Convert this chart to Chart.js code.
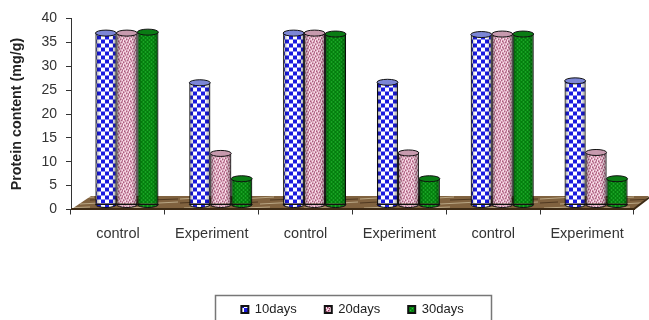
<!DOCTYPE html>
<html><head><meta charset="utf-8">
<style>html,body{margin:0;padding:0;background:#fff}canvas{display:block}</style>
<script src="https://cdn.jsdelivr.net/npm/chart.js@4"></script>
</head><body><canvas id="c" width="649" height="320"></canvas>
<script>
const categories = ['control','Experiment','control','Experiment','control','Experiment'];
const days10 = [36.0,25.6,36.0,25.7,35.7,26.0];
const days20 = [36.0,10.8,36.0,10.9,35.8,11.0];
const days30 = [36.2,5.5,35.8,5.5,35.8,5.5];
const seriesNames = ['10days','20days','30days'];
const yTicks = [0,5,10,15,20,25,30,35,40];

function tile(w,h,draw){const c=document.createElement('canvas');c.width=w;c.height=h;draw(c.getContext('2d'));return c.getContext('2d').createPattern(c,'repeat');}
const checker = tile(8,8,g=>{g.fillStyle='#fff';g.fillRect(0,0,8,8);g.fillStyle='#1a1ae0';g.fillRect(0,0,4,4);g.fillRect(4,4,4,4);});
const speckle = tile(6,6,g=>{g.fillStyle='#fbdfeb';g.fillRect(0,0,6,6);g.fillStyle='#94345c';[[0,0],[3,1],[1,3],[4,4],[5,2],[2,5]].forEach(p=>g.fillRect(p[0],p[1],1.5,1.5));});
const greenWeave = tile(4,4,g=>{g.fillStyle='#078a12';g.fillRect(0,0,4,4);g.fillStyle='#2fb83a';g.fillRect(0,0,1,1);g.fillRect(2,2,1,1);g.fillStyle='#056a0c';g.fillRect(2,0,1,1);g.fillRect(0,2,1,1);});
const wood = tile(60,14,g=>{g.fillStyle='#80623f';g.fillRect(0,0,60,14);g.strokeStyle='#b9a684';g.lineWidth=1;[[0,3,34,1],[20,8,58,6],[4,12,30,11]].forEach(s=>{g.beginPath();g.moveTo(s[0],s[1]);g.lineTo(s[2],s[3]);g.stroke();});g.strokeStyle='#4f3820';[[30,4,58,3],[0,7,18,6]].forEach(s=>{g.beginPath();g.moveTo(s[0],s[1]);g.lineTo(s[2],s[3]);g.stroke();});});
const fills=[checker,speckle,greenWeave];
const caps=['#7c86d6','#c79aae','#0a7c14'];

const SHIFT_X=9, SHIFT_Y=-4.5, RY=3;
const cylinders={id:'cylinders',
  afterLayout(chart){const l=chart.legend;const h=l.height;l.top=275;l.bottom=275+h;},
  beforeDatasetsDraw(chart){
    const g=chart.ctx,a=chart.chartArea;
    g.save();
    g.beginPath();g.moveTo(a.left,a.bottom);g.lineTo(a.left+20,a.bottom-13.5);g.lineTo(649,a.bottom-13.5);g.lineTo(a.right,a.bottom);g.closePath();
    g.fillStyle=wood;g.fill();
    g.strokeStyle='#3d2a14';g.lineWidth=2;g.beginPath();g.moveTo(a.left,a.bottom-.5);g.lineTo(a.right,a.bottom-.5);g.lineTo(649,a.bottom-12);g.stroke();
    g.restore();
    g.save();g.translate(SHIFT_X,SHIFT_Y);
    g.beginPath();
  },
  afterDatasetsDraw(chart){
    const g=chart.ctx;
    chart.data.datasets.forEach((d,i)=>{
      chart.getDatasetMeta(i).data.forEach(el=>{
        const w=el.width/2,x=el.x,top=el.y,bot=el.base;
        const sh=g.createLinearGradient(x-w,0,x+w,0);
        sh.addColorStop(0,'rgba(0,0,0,.38)');sh.addColorStop(.22,'rgba(0,0,0,0)');sh.addColorStop(.75,'rgba(0,0,0,0)');sh.addColorStop(1,'rgba(0,0,0,.38)');
        g.fillStyle=sh;g.fillRect(x-w,top,2*w,bot-top);
        g.beginPath();g.ellipse(x,bot,w,RY,0,0,Math.PI);g.closePath();
        g.fillStyle=fills[i];g.fill();g.fillStyle=sh;g.fill();
        g.strokeStyle='#111';g.lineWidth=1;g.stroke();
        g.beginPath();g.ellipse(x,top,w,RY,0,0,Math.PI*2);
        g.fillStyle=caps[i];g.fill();g.strokeStyle='#111';g.lineWidth=1;g.stroke();
      });
    });
    g.restore();
  },
  afterDraw(chart){
    const g=chart.ctx;g.save();g.strokeStyle='#777';g.lineWidth=1.5;g.strokeRect(215.5,295.5,276,40);g.restore();
  }
};

new Chart(document.getElementById('c'),{
  type:'bar',
  data:{labels:categories,datasets:[days10,days20,days30].map((v,i)=>({
    label:seriesNames[i],data:v,backgroundColor:fills[i],borderColor:'#111',borderWidth:1,borderSkipped:false,
    categoryPercentage:0.67,barPercentage:1,clip:false}))},
  plugins:[cylinders],
  options:{responsive:false,animation:false,
    layout:{padding:{top:18.5,left:0,right:15,bottom:0}},
    plugins:{tooltip:{enabled:false},
      legend:{position:'bottom',fullSize:false,labels:{boxWidth:7,boxHeight:7,padding:28,color:'#222',font:{family:'"Liberation Sans"',size:13},
        generateLabels(chart){return Chart.defaults.plugins.legend.labels.generateLabels(chart).map(l=>({...l,lineWidth:2}));}}}},
    scales:{
      x:{afterFit(s){s.height=59.5;},
        grid:{drawOnChartArea:false,color:'#333',tickLength:5,offset:true},
        border:{color:'#333'},
        ticks:{color:'#333',font:{family:'"Liberation Sans"',size:14.5},padding:11,maxRotation:0,autoSkip:false}},
      y:{min:0,max:40,afterFit(s){s.width=71;},
        afterBuildTicks(s){s.ticks=yTicks.map(v=>({value:v}));},
        grid:{drawOnChartArea:false,color:'#333',tickLength:5},
        border:{color:'#333'},
        ticks:{color:'#333',font:{family:'"Liberation Sans"',size:14},padding:9},
        title:{display:true,text:'Protein content (mg/g)',color:'#222',font:{family:'"Liberation Sans"',size:14.3,weight:'bold'},padding:{top:8,bottom:0}}}
    }
  }
});
</script></body></html>
